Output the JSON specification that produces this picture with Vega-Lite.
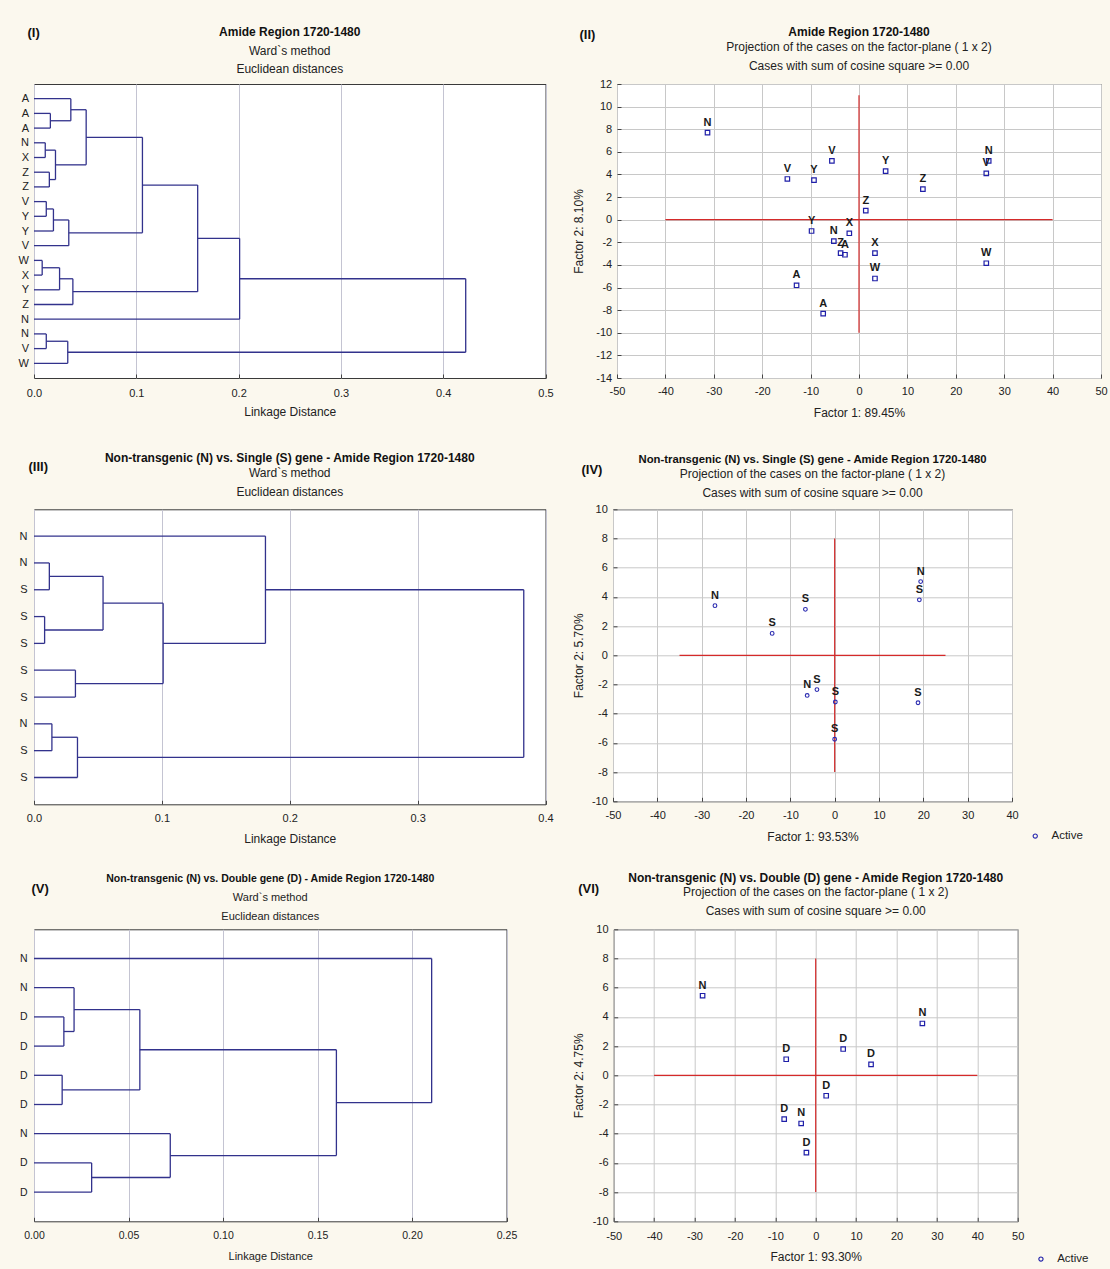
{
  "$schema": "https://vega.github.io/schema/vega-lite/v6.json",
  "background": "#fbf8ee",
  "padding": {"left": 17, "top": 25, "right": 5, "bottom": 5},
  "config": {
    "view": {"fill": "white", "stroke": "#3a3a3a", "strokeWidth": 1},
    "font": "Liberation Sans",
    "axis": {"domain": false, "ticks": false, "labelFlush": false, "labelOverlap": false, "gridColor": "#c8c8c8", "gridWidth": 1, "tickColor": "#444444", "labelFont": "Liberation Sans", "labelFontSize": 11, "labelColor": "#222222", "titleFont": "Liberation Sans", "titleFontSize": 12, "titleFontWeight": "normal", "titleColor": "#222222"},
    "title": {"font": "Liberation Sans", "subtitleFont": "Liberation Sans", "fontSize": 12, "subtitleFontSize": 12, "fontWeight": "bold", "color": "#111111", "subtitleColor": "#222222", "anchor": "middle"},
    "legend": {"labelFont": "Liberation Sans", "labelFontSize": 11.5, "labelColor": "#222222", "padding": 0}
  },
  "resolve": {"scale": {"color": "independent"}, "legend": {"color": "independent"}},
  "spacing": 32.3,
  "vconcat": [
    {
      "spacing": 18,
      "resolve": {"scale": {"color": "independent"}, "legend": {"color": "independent"}},
      "hconcat": [
        {
          "width": 511.5, "height": 294,
          "title": {"text": "Amide Region 1720-1480", "subtitle": ["Ward`s method", "Euclidean distances"], "subtitlePadding": 6.4, "subtitleLineHeight": 18.6, "offset": -50.1},
          "data": {"values": [
            {"h": 0.016, "ya": 1, "yb": 2, "ha": 0, "hb": 0},
            {"h": 0.036, "ya": 0, "yb": 1.5, "ha": 0, "hb": 0.016},
            {"h": 0.011, "ya": 3, "yb": 4, "ha": 0, "hb": 0},
            {"h": 0.015, "ya": 5, "yb": 6, "ha": 0, "hb": 0},
            {"h": 0.021, "ya": 3.5, "yb": 5.5, "ha": 0.011, "hb": 0.015},
            {"h": 0.051, "ya": 0.75, "yb": 4.5, "ha": 0.036, "hb": 0.021},
            {"h": 0.012, "ya": 7, "yb": 8, "ha": 0, "hb": 0},
            {"h": 0.019, "ya": 7.5, "yb": 9, "ha": 0.012, "hb": 0},
            {"h": 0.034, "ya": 8.25, "yb": 10, "ha": 0.019, "hb": 0},
            {"h": 0.106, "ya": 2.625, "yb": 9.125, "ha": 0.051, "hb": 0.034},
            {"h": 0.008, "ya": 11, "yb": 12, "ha": 0, "hb": 0},
            {"h": 0.025, "ya": 11.5, "yb": 13, "ha": 0.008, "hb": 0},
            {"h": 0.038, "ya": 12.25, "yb": 14, "ha": 0.025, "hb": 0},
            {"h": 0.160, "ya": 5.875, "yb": 13.125, "ha": 0.106, "hb": 0.038},
            {"h": 0.201, "ya": 9.5, "yb": 15, "ha": 0.160, "hb": 0},
            {"h": 0.012, "ya": 16, "yb": 17, "ha": 0, "hb": 0},
            {"h": 0.033, "ya": 16.5, "yb": 18, "ha": 0.012, "hb": 0},
            {"h": 0.422, "ya": 12.25, "yb": 17.25, "ha": 0.201, "hb": 0.033}
          ]},
          "resolve": {"axis": {"x": "independent", "y": "independent"}},
          "layer": [
            {
              "mark": {"type": "rule", "color": "#32328c", "strokeWidth": 1.3},
              "encoding": {
                "x": {"field": "h", "type": "quantitative", "scale": {"domain": [0, 0.5], "nice": false, "zero": false},
                  "axis": {"values": [0, 0.1, 0.2, 0.3, 0.4, 0.5], "format": ".1f", "grid": true, "gridColor": "#c4c4d2", "ticks": true, "tickSize": -4, "title": "Linkage Distance", "labelPadding": 13, "titlePadding": 8.8}},
                "y": {"field": "ya", "type": "quantitative", "scale": {"domain": [-1, 19], "reverse": true, "nice": false, "zero": false},
                  "axis": {"values": [0,1,2,3,4,5,6,7,8,9,10,11,12,13,14,15,16,17,18], "labelExpr": "['A','A','A','N','X','Z','Z','V','Y','Y','V','W','X','Y','Z','N','N','V','W'][datum.value]", "grid": false, "labelPadding": 5.5, "title": "(I)", "titleAngle": 0, "titleX": -7, "titleY": -58, "titleAlign": "left", "titleBaseline": "top", "titleFontSize": 13, "titleFontWeight": "bold", "titleColor": "#111111"}},
                "y2": {"field": "yb"}
              }
            },
            {
              "mark": {"type": "rule", "color": "#32328c", "strokeWidth": 1.3},
              "encoding": {
                "x": {"field": "ha", "type": "quantitative", "axis": null},
                "x2": {"field": "h"},
                "y": {"field": "ya", "type": "quantitative", "axis": null}
              }
            },
            {
              "mark": {"type": "rule", "color": "#32328c", "strokeWidth": 1.3},
              "encoding": {
                "x": {"field": "hb", "type": "quantitative", "axis": null},
                "x2": {"field": "h"},
                "y": {"field": "yb", "type": "quantitative", "axis": null}
              }
            }
          ]
        },
        {
          "width": 484, "height": 294,
          "title": {"text": "Amide Region 1720-1480", "subtitle": ["Projection of the cases on the factor-plane (  1 x   2)", "Cases with sum of cosine square >=  0.00"], "subtitlePadding": 2.4, "subtitleLineHeight": 19, "offset": -44.5},
          "data": {"values": [
            {"label": "N", "f1": -31.3, "f2": 7.7},
            {"label": "V", "f1": -5.6, "f2": 5.2},
            {"label": "V", "f1": -14.8, "f2": 3.6},
            {"label": "Y", "f1": -9.3, "f2": 3.5},
            {"label": "Y", "f1": -9.8, "f2": -1.0},
            {"label": "X", "f1": -2.0, "f2": -1.2},
            {"label": "N", "f1": -5.2, "f2": -1.9},
            {"label": "Z", "f1": -3.8, "f2": -2.95},
            {"label": "A", "f1": -2.9, "f2": -3.1},
            {"label": "A", "f1": -12.9, "f2": -5.8},
            {"label": "A", "f1": -7.4, "f2": -8.3},
            {"label": "Y", "f1": 5.5, "f2": 4.3},
            {"label": "Z", "f1": 13.2, "f2": 2.7},
            {"label": "Z", "f1": 1.4, "f2": 0.8},
            {"label": "N", "f1": 26.8, "f2": 5.2},
            {"label": "V", "f1": 26.3, "f2": 4.1},
            {"label": "X", "f1": 3.3, "f2": -2.95},
            {"label": "W", "f1": 3.3, "f2": -5.2},
            {"label": "W", "f1": 26.3, "f2": -3.85}
          ]},
          "resolve": {"axis": {"x": "independent", "y": "independent"}},
          "layer": [
            {
              "data": {"values": [{"x1": -40, "x2": 40, "y1": 0, "y2": 0}, {"x1": 0, "x2": 0, "y1": -10, "y2": 11}]},
              "mark": {"type": "rule", "color": "#d42a2a", "strokeWidth": 1.2},
              "encoding": {
                "x": {"field": "x1", "type": "quantitative", "axis": null},
                "x2": {"field": "x2"},
                "y": {"field": "y1", "type": "quantitative", "axis": null},
                "y2": {"field": "y2"}
              }
            },
            {
              "mark": {"type": "point", "shape": "square", "filled": false, "color": "#1f1fa8", "size": 20, "strokeWidth": 1.2, "opacity": 1},
              "encoding": {
                "x": {"field": "f1", "type": "quantitative", "scale": {"domain": [-50, 50], "nice": false, "zero": false},
                  "axis": {"orient": "bottom", "values": [-50,-40,-30,-20,-10,0,10,20,30,40,50], "labelExpr": "datum.value + ''", "grid": true, "ticks": true, "tickSize": -4, "title": "Factor 1: 89.45%", "labelPadding": 11.3, "titlePadding": 11.2}},
                "y": {"field": "f2", "type": "quantitative", "scale": {"domain": [-14, 12], "nice": false, "zero": false},
                  "axis": {"orient": "left", "values": [-14,-12,-10,-8,-6,-4,-2,0,2,4,6,8,10,12], "labelExpr": "datum.value + ''", "grid": true, "ticks": true, "tickSize": -4, "title": "Factor 2:  8.10%", "labelPadding": 9.3, "titlePadding": 10}}
              }
            },
            {
              "mark": {"type": "text", "fontWeight": "bold", "fontSize": 11, "dy": -10, "color": "#1a1a1a"},
              "encoding": {
                "x": {"field": "f1", "type": "quantitative",
                  "axis": {"orient": "top", "labels": false, "ticks": false, "domain": false, "grid": false, "title": "(II)", "titleX": -38, "titleY": -56, "titleAngle": 0, "titleAlign": "left", "titleBaseline": "top", "titleFontSize": 13, "titleFontWeight": "bold", "titleColor": "#111111"}},
                "y": {"field": "f2", "type": "quantitative", "axis": null},
                "text": {"field": "label"}
              }
            }
          ]
        }
      ]
    },
    {
      "spacing": 26,
      "resolve": {"scale": {"color": "independent"}, "legend": {"color": "independent"}},
      "vconcat": [
        {
          "spacing": 18,
          "resolve": {"scale": {"color": "independent"}, "legend": {"color": "independent"}},
          "hconcat": [
            {
              "width": 511.5, "height": 295,
              "title": {"text": "Non-transgenic (N) vs. Single (S) gene - Amide Region 1720-1480", "subtitle": ["Ward`s method", "Euclidean distances"], "subtitlePadding": 3, "subtitleLineHeight": 19, "offset": -38.5},
              "data": {"values": [
                {"h": 0.012, "ya": 1, "yb": 2, "ha": 0, "hb": 0},
                {"h": 0.0083, "ya": 3, "yb": 4, "ha": 0, "hb": 0},
                {"h": 0.054, "ya": 1.5, "yb": 3.5, "ha": 0.012, "hb": 0.0083},
                {"h": 0.0324, "ya": 5, "yb": 6, "ha": 0, "hb": 0},
                {"h": 0.101, "ya": 2.5, "yb": 5.5, "ha": 0.054, "hb": 0.0324},
                {"h": 0.181, "ya": 0, "yb": 4, "ha": 0, "hb": 0.101},
                {"h": 0.014, "ya": 7, "yb": 8, "ha": 0, "hb": 0},
                {"h": 0.034, "ya": 7.5, "yb": 9, "ha": 0.014, "hb": 0},
                {"h": 0.383, "ya": 2, "yb": 8.25, "ha": 0.181, "hb": 0.034}
              ]},
              "resolve": {"axis": {"x": "independent", "y": "independent"}},
              "layer": [
                {
                  "mark": {"type": "rule", "color": "#32328c", "strokeWidth": 1.3},
                  "encoding": {
                    "x": {"field": "h", "type": "quantitative", "scale": {"domain": [0, 0.4], "nice": false, "zero": false},
                      "axis": {"values": [0, 0.1, 0.2, 0.3, 0.4], "format": ".1f", "grid": true, "gridColor": "#c4c4d2", "ticks": true, "tickSize": -4, "title": "Linkage Distance", "labelPadding": 12.3, "titlePadding": 9.5}},
                    "y": {"field": "ya", "type": "quantitative", "scale": {"domain": [-1, 10], "reverse": true, "nice": false, "zero": false},
                      "axis": {"values": [0,1,2,3,4,5,6,7,8,9], "labelExpr": "['N','N','S','S','S','S','S','N','S','S'][datum.value]", "grid": false, "labelPadding": 7, "title": "(III)", "titleAngle": 0, "titleX": -6, "titleY": -49, "titleAlign": "left", "titleBaseline": "top", "titleFontSize": 13, "titleFontWeight": "bold", "titleColor": "#111111"}},
                    "y2": {"field": "yb"}
                  }
                },
                {
                  "mark": {"type": "rule", "color": "#32328c", "strokeWidth": 1.3},
                  "encoding": {
                    "x": {"field": "ha", "type": "quantitative", "axis": null},
                    "x2": {"field": "h"},
                    "y": {"field": "ya", "type": "quantitative", "axis": null}
                  }
                },
                {
                  "mark": {"type": "rule", "color": "#32328c", "strokeWidth": 1.3},
                  "encoding": {
                    "x": {"field": "hb", "type": "quantitative", "axis": null},
                    "x2": {"field": "h"},
                    "y": {"field": "yb", "type": "quantitative", "axis": null}
                  }
                }
              ]
            },
            {
              "width": 399, "height": 292,
              "title": {"text": "Non-transgenic (N) vs. Single (S) gene - Amide Region 1720-1480", "subtitle": ["Projection of the cases on the factor-plane (  1 x   2)", "Cases with sum of cosine square >=  0.00"], "fontSize": 11.3, "subtitlePadding": 3.6, "subtitleLineHeight": 19, "offset": -35.7},
              "data": {"values": [
                {"label": "N", "f1": -27.0, "f2": 3.4},
                {"label": "S", "f1": -6.6, "f2": 3.15},
                {"label": "S", "f1": -14.1, "f2": 1.5},
                {"label": "N", "f1": 19.4, "f2": 5.05},
                {"label": "S", "f1": 19.1, "f2": 3.8},
                {"label": "N", "f1": -6.2, "f2": -2.75},
                {"label": "S", "f1": -4.0, "f2": -2.35},
                {"label": "S", "f1": 0.15, "f2": -3.2},
                {"label": "S", "f1": 0.0, "f2": -5.75},
                {"label": "S", "f1": 18.8, "f2": -3.25}
              ]},
              "resolve": {"axis": {"x": "independent", "y": "independent"}},
              "layer": [
                {
                  "data": {"values": [{"x1": -35, "x2": 25, "y1": 0, "y2": 0}, {"x1": 0, "x2": 0, "y1": -8, "y2": 8}]},
                  "mark": {"type": "rule", "color": "#d42a2a", "strokeWidth": 1.2},
                  "encoding": {
                    "x": {"field": "x1", "type": "quantitative", "axis": null},
                    "x2": {"field": "x2"},
                    "y": {"field": "y1", "type": "quantitative", "axis": null},
                    "y2": {"field": "y2"}
                  }
                },
                {
                  "mark": {"type": "point", "shape": "circle", "filled": false, "size": 14, "strokeWidth": 1.1, "opacity": 1},
                  "encoding": {
                    "x": {"field": "f1", "type": "quantitative", "scale": {"domain": [-50, 40], "nice": false, "zero": false},
                      "axis": {"orient": "bottom", "values": [-50,-40,-30,-20,-10,0,10,20,30,40], "labelExpr": "datum.value + ''", "grid": true, "ticks": true, "tickSize": -4, "title": "Factor 1: 93.53%", "labelPadding": 12.3, "titlePadding": 10.5}},
                    "y": {"field": "f2", "type": "quantitative", "scale": {"domain": [-10, 10], "nice": false, "zero": false},
                      "axis": {"orient": "left", "values": [-10,-8,-6,-4,-2,0,2,4,6,8,10], "labelExpr": "datum.value + ''", "grid": true, "ticks": true, "tickSize": -4, "title": "Factor 2:  5.70%", "labelPadding": 9.7, "titlePadding": 5.6}},
                    "color": {"datum": "Active", "type": "nominal", "scale": {"domain": ["Active"], "range": ["#2a2ab0"]},
                      "legend": {"orient": "none", "legendX": 416.5, "legendY": 321, "title": null, "symbolType": "circle", "symbolSize": 18, "symbolStrokeWidth": 1.1, "labelOffset": 10.5}}
                  }
                },
                {
                  "mark": {"type": "text", "fontWeight": "bold", "fontSize": 11, "dy": -10, "color": "#1a1a1a"},
                  "encoding": {
                    "x": {"field": "f1", "type": "quantitative",
                      "axis": {"orient": "top", "labels": false, "ticks": false, "domain": false, "grid": false, "title": "(IV)", "titleX": -32, "titleY": -46, "titleAngle": 0, "titleAlign": "left", "titleBaseline": "top", "titleFontSize": 13, "titleFontWeight": "bold", "titleColor": "#111111"}},
                    "y": {"field": "f2", "type": "quantitative", "axis": null},
                    "text": {"field": "label"}
                  }
                }
              ]
            }
          ]
        },
        {
          "spacing": 53.7,
          "resolve": {"scale": {"color": "independent"}, "legend": {"color": "independent"}},
          "hconcat": [
            {
              "width": 472.5, "height": 292,
              "title": {"text": "Non-transgenic (N) vs. Double gene (D) - Amide Region 1720-1480", "subtitle": ["Ward`s method", "Euclidean distances"], "fontSize": 10.5, "subtitleFontSize": 11, "subtitlePadding": 7.6, "subtitleLineHeight": 18.7, "offset": -39.3},
              "data": {"values": [
                {"h": 0.0158, "ya": 2, "yb": 3, "ha": 0, "hb": 0},
                {"h": 0.0212, "ya": 1, "yb": 2.5, "ha": 0, "hb": 0.0158},
                {"h": 0.0149, "ya": 4, "yb": 5, "ha": 0, "hb": 0},
                {"h": 0.056, "ya": 1.75, "yb": 4.5, "ha": 0.0212, "hb": 0.0149},
                {"h": 0.0305, "ya": 7, "yb": 8, "ha": 0, "hb": 0},
                {"h": 0.0721, "ya": 6, "yb": 7.5, "ha": 0, "hb": 0.0305},
                {"h": 0.160, "ya": 3.125, "yb": 6.75, "ha": 0.056, "hb": 0.0721},
                {"h": 0.2104, "ya": 0, "yb": 4.9375, "ha": 0, "hb": 0.160}
              ]},
              "resolve": {"axis": {"x": "independent", "y": "independent"}},
              "layer": [
                {
                  "mark": {"type": "rule", "color": "#32328c", "strokeWidth": 1.3},
                  "encoding": {
                    "x": {"field": "h", "type": "quantitative", "scale": {"domain": [0, 0.25], "nice": false, "zero": false},
                      "axis": {"values": [0, 0.05, 0.1, 0.15, 0.2, 0.25], "format": ".2f", "grid": true, "gridColor": "#c4c4d2", "ticks": true, "tickSize": -4, "title": "Linkage Distance", "labelFontSize": 10.5, "titleFontSize": 11, "labelPadding": 13.2, "titlePadding": 9.6}},
                    "y": {"field": "ya", "type": "quantitative", "scale": {"domain": [-1, 9], "reverse": true, "nice": false, "zero": false},
                      "axis": {"values": [0,1,2,3,4,5,6,7,8], "labelExpr": "['N','N','D','D','D','D','N','D','D'][datum.value]", "grid": false, "labelFontSize": 10.5, "labelPadding": 7, "title": "(V)", "titleAngle": 0, "titleX": -3, "titleY": -47, "titleAlign": "left", "titleBaseline": "top", "titleFontSize": 13, "titleFontWeight": "bold", "titleColor": "#111111"}},
                    "y2": {"field": "yb"}
                  }
                },
                {
                  "mark": {"type": "rule", "color": "#32328c", "strokeWidth": 1.3},
                  "encoding": {
                    "x": {"field": "ha", "type": "quantitative", "axis": null},
                    "x2": {"field": "h"},
                    "y": {"field": "ya", "type": "quantitative", "axis": null}
                  }
                },
                {
                  "mark": {"type": "rule", "color": "#32328c", "strokeWidth": 1.3},
                  "encoding": {
                    "x": {"field": "hb", "type": "quantitative", "axis": null},
                    "x2": {"field": "h"},
                    "y": {"field": "yb", "type": "quantitative", "axis": null}
                  }
                }
              ]
            },
            {
              "width": 404, "height": 292,
              "title": {"text": "Non-transgenic (N) vs. Double (D) gene - Amide Region 1720-1480", "subtitle": ["Projection of the cases on the factor-plane (  1 x   2)", "Cases with sum of cosine square >=  0.00"], "subtitlePadding": 1.7, "subtitleLineHeight": 19, "offset": -35.5},
              "data": {"values": [
                {"label": "N", "f1": -28.0, "f2": 5.45},
                {"label": "N", "f1": 26.4, "f2": 3.55},
                {"label": "D", "f1": -7.3, "f2": 1.1},
                {"label": "D", "f1": 6.8, "f2": 1.8},
                {"label": "D", "f1": 13.7, "f2": 0.75},
                {"label": "D", "f1": 2.6, "f2": -1.4},
                {"label": "D", "f1": -7.8, "f2": -3.0},
                {"label": "N", "f1": -3.6, "f2": -3.3},
                {"label": "D", "f1": -2.3, "f2": -5.3}
              ]},
              "resolve": {"axis": {"x": "independent", "y": "independent"}},
              "layer": [
                {
                  "data": {"values": [{"x1": -40, "x2": 40, "y1": 0, "y2": 0}, {"x1": 0, "x2": 0, "y1": -8, "y2": 8}]},
                  "mark": {"type": "rule", "color": "#d42a2a", "strokeWidth": 1.2},
                  "encoding": {
                    "x": {"field": "x1", "type": "quantitative", "axis": null},
                    "x2": {"field": "x2"},
                    "y": {"field": "y1", "type": "quantitative", "axis": null},
                    "y2": {"field": "y2"}
                  }
                },
                {
                  "mark": {"type": "point", "shape": "square", "filled": false, "size": 20, "strokeWidth": 1.2, "opacity": 1},
                  "encoding": {
                    "x": {"field": "f1", "type": "quantitative", "scale": {"domain": [-50, 50], "nice": false, "zero": false},
                      "axis": {"orient": "bottom", "values": [-50,-40,-30,-20,-10,0,10,20,30,40,50], "labelExpr": "datum.value + ''", "grid": true, "ticks": true, "tickSize": -4, "title": "Factor 1: 93.30%", "labelPadding": 13, "titlePadding": 10.5}},
                    "y": {"field": "f2", "type": "quantitative", "scale": {"domain": [-10, 10], "nice": false, "zero": false},
                      "axis": {"orient": "left", "values": [-10,-8,-6,-4,-2,0,2,4,6,8,10], "labelExpr": "datum.value + ''", "grid": true, "ticks": true, "tickSize": -4, "title": "Factor 2:  4.75%", "labelPadding": 9.6, "titlePadding": 6.4}},
                    "color": {"datum": "Active", "type": "nominal", "scale": {"domain": ["Active"], "range": ["#1f1fa8"]},
                      "legend": {"orient": "none", "legendX": 421.5, "legendY": 324, "title": null, "symbolType": "circle", "symbolSize": 18, "symbolStrokeWidth": 1.1, "labelOffset": 10.5,
                        "encode": {"symbols": {"update": {"shape": {"value": "circle"}}}}}}
                  }
                },
                {
                  "mark": {"type": "text", "fontWeight": "bold", "fontSize": 11, "dy": -10, "color": "#1a1a1a"},
                  "encoding": {
                    "x": {"field": "f1", "type": "quantitative",
                      "axis": {"orient": "top", "labels": false, "ticks": false, "domain": false, "grid": false, "title": "(VI)", "titleX": -36, "titleY": -47, "titleAngle": 0, "titleAlign": "left", "titleBaseline": "top", "titleFontSize": 13, "titleFontWeight": "bold", "titleColor": "#111111"}},
                    "y": {"field": "f2", "type": "quantitative", "axis": null},
                    "text": {"field": "label"}
                  }
                }
              ]
            }
          ]
        }
      ]
    }
  ]
}
